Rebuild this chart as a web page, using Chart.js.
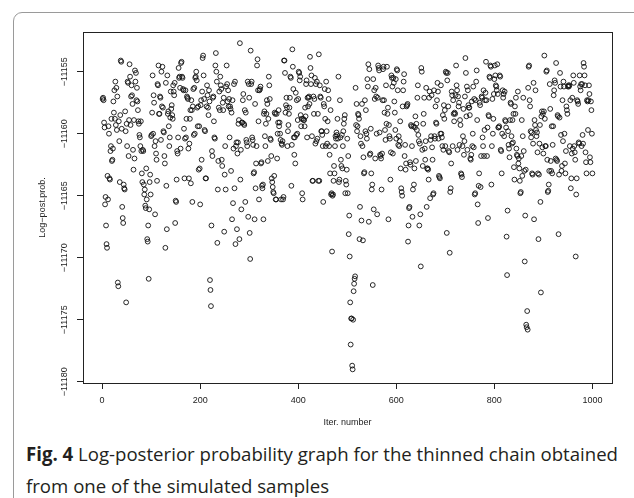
<!DOCTYPE html>
<html lang="en">
<head>
<meta charset="UTF-8">
<title>Fig. 4 Log-posterior probability</title>
<script src="https://cdn.jsdelivr.net/npm/chart.js"></script>
<style>
  html, body { margin: 0; padding: 0; background: #fff; }
  body { width: 634px; height: 498px; position: relative; overflow: hidden; }
  #card { position: absolute; left: 13px; top: 12px; width: 700px; height: 600px; border: 1px solid #9a9a9a; border-radius: 9px; }
  #plot { position: absolute; left: 0; top: 0; }
  .cap { position: absolute; left: 26px; font-family: "Open Sans", sans-serif; font-size: 19px; color: #231f20;
         white-space: nowrap; line-height: 1; transform-origin: 0 50%; }
</style>
</head>
<body>
<div id="card"></div>
<canvas id="plot" width="634" height="440"></canvas>
<div class="cap" id="cap1" style="top:445px"><b>Fig. 4</b> Log-posterior probability graph for the thinned chain obtained</div>
<div class="cap" id="cap2" style="top:477px">from one of the simulated samples</div>
<script>
// tick labels
const xTicks = [0, 200, 400, 600, 800, 1000];
const yTicks = [-11180, -11175, -11170, -11165, -11160, -11155];

// log-posterior value at each thinned iteration (1..1000)
const logPost = [
  -11157.2,-11157.1,-11157.3,-11159.1,-11159.5,-11165.7,-11165.1,-11167.4,-11168.9,-11169.2,-11163.4,-11165.3,-11159.4,-11160.0,-11163.6,-11163.7,-11161.4,-11161.0,-11158.8,-11162.2,
  -11162.1,-11161.2,-11157.4,-11158.3,-11156.5,-11158.8,-11155.8,-11159.3,-11156.3,-11159.7,-11157.0,-11172.0,-11172.3,-11159.0,-11160.6,-11163.9,-11158.5,-11154.1,-11154.2,-11159.6,
  -11165.9,-11166.8,-11167.2,-11164.1,-11164.4,-11164.5,-11158.2,-11159.8,-11173.6,-11159.2,-11161.0,-11155.8,-11155.9,-11161.8,-11158.9,-11154.4,-11155.4,-11159.3,-11157.0,-11156.1,
  -11156.9,-11157.6,-11161.3,-11162.9,-11158.9,-11162.0,-11154.9,-11155.8,-11155.1,-11157.3,-11156.3,-11157.4,-11158.1,-11159.0,-11159.2,-11160.1,-11160.3,-11161.0,-11159.0,-11161.4,
  -11163.2,-11163.9,-11161.3,-11161.4,-11164.1,-11164.9,-11164.5,-11165.8,-11166.0,-11162.8,-11165.3,-11168.5,-11168.7,-11167.4,-11171.7,-11166.1,-11163.9,-11163.3,-11164.9,-11160.2,
  -11160.1,-11158.3,-11155.3,-11160.0,-11156.9,-11157.5,-11161.0,-11166.5,-11160.6,-11161.6,-11162.1,-11163.8,-11156.0,-11156.1,-11154.5,-11158.4,-11158.4,-11157.0,-11157.1,-11160.5,
  -11155.0,-11157.8,-11154.6,-11157.9,-11159.8,-11159.9,-11161.8,-11162.4,-11169.2,-11155.9,-11164.2,-11167.7,-11155.3,-11158.4,-11158.2,-11159.4,-11161.0,-11160.3,-11158.7,-11156.6,
  -11158.0,-11157.7,-11158.5,-11158.8,-11156.1,-11156.6,-11156.9,-11155.9,-11167.2,-11165.4,-11165.5,-11163.7,-11161.4,-11161.6,-11160.3,-11154.7,-11155.5,-11155.4,-11156.3,-11161.2,
  -11154.3,-11154.2,-11155.4,-11155.5,-11156.4,-11156.5,-11159.6,-11163.6,-11160.4,-11156.5,-11160.3,-11158.8,-11157.0,-11157.1,-11157.2,-11161.2,-11163.6,-11160.8,-11158.8,-11158.1,
  -11164.0,-11157.3,-11158.1,-11165.5,-11157.8,-11156.4,-11160.1,-11156.3,-11160.0,-11155.5,-11155.4,-11155.0,-11155.7,-11157.9,-11159.4,-11157.8,-11162.9,-11159.4,-11162.8,-11165.7,
  -11157.7,-11157.3,-11162.1,-11156.6,-11153.9,-11153.7,-11155.3,-11157.2,-11159.7,-11159.8,-11163.6,-11163.6,-11157.8,-11156.1,-11156.9,-11157.9,-11158.5,-11156.5,-11157.4,-11171.8,
  -11172.6,-11173.9,-11167.4,-11161.4,-11161.8,-11157.1,-11157.0,-11159.0,-11160.3,-11160.4,-11154.5,-11153.5,-11155.0,-11155.8,-11168.8,-11164.5,-11162.2,-11157.9,-11156.6,-11158.1,
  -11155.4,-11156.1,-11156.4,-11162.1,-11162.6,-11157.5,-11158.1,-11157.1,-11167.9,-11163.3,-11161.0,-11164.5,-11156.2,-11154.5,-11156.0,-11157.4,-11156.5,-11157.8,-11157.2,-11160.3,
  -11157.8,-11158.0,-11163.0,-11158.3,-11166.9,-11157.3,-11165.6,-11161.2,-11156.0,-11164.4,-11155.8,-11168.9,-11161.0,-11160.7,-11167.7,-11161.6,-11160.7,-11159.2,-11158.9,-11168.5,
  -11152.7,-11163.7,-11161.3,-11166.1,-11159.1,-11159.1,-11157.3,-11156.8,-11159.2,-11159.3,-11158.1,-11165.5,-11158.3,-11160.5,-11160.7,-11161.0,-11155.8,-11166.7,-11156.0,-11157.1,
  -11168.0,-11170.1,-11153.3,-11156.0,-11155.8,-11160.3,-11160.5,-11160.9,-11163.2,-11163.1,-11166.9,-11157.6,-11164.4,-11162.4,-11161.0,-11154.5,-11154.0,-11156.5,-11159.0,-11165.3,
  -11156.5,-11156.4,-11156.2,-11162.4,-11162.3,-11164.2,-11164.4,-11164.1,-11166.9,-11158.4,-11158.2,-11160.2,-11161.0,-11159.2,-11158.4,-11157.3,-11157.6,-11162.2,-11158.8,-11155.4,
  -11156.1,-11157.2,-11160.4,-11160.5,-11161.8,-11163.6,-11163.9,-11164.3,-11164.7,-11164.8,-11163.4,-11158.3,-11158.4,-11165.3,-11165.3,-11158.4,-11162.0,-11160.0,-11159.1,-11158.1,
  -11159.4,-11159.1,-11160.0,-11160.5,-11165.3,-11160.8,-11160.9,-11160.6,-11165.3,-11165.1,-11154.1,-11154.1,-11155.1,-11158.3,-11157.7,-11157.1,-11157.9,-11161.0,-11159.8,-11159.3,
  -11158.4,-11157.9,-11157.1,-11155.4,-11155.5,-11164.2,-11160.9,-11153.2,-11154.6,-11156.4,-11160.3,-11161.7,-11160.3,-11162.4,-11156.7,-11160.1,-11157.3,-11160.0,-11158.9,-11157.2,
  -11155.0,-11155.1,-11155.7,-11155.4,-11158.5,-11159.4,-11158.8,-11164.8,-11165.3,-11158.8,-11158.9,-11158.9,-11159.4,-11157.9,-11158.6,-11156.0,-11155.7,-11160.3,-11157.1,-11157.8,
  -11157.1,-11157.0,-11157.6,-11153.8,-11154.7,-11156.0,-11155.3,-11160.2,-11163.8,-11163.8,-11157.0,-11158.4,-11157.2,-11155.5,-11160.8,-11156.0,-11160.6,-11155.8,-11160.4,-11158.4,
  -11163.8,-11153.6,-11163.8,-11156.1,-11157.0,-11157.1,-11159.8,-11159.8,-11160.1,-11161.0,-11165.5,-11157.6,-11157.8,-11156.4,-11158.8,-11161.0,-11155.8,-11159.8,-11160.8,-11159.0,
  -11156.5,-11157.2,-11161.0,-11161.7,-11163.2,-11158.1,-11164.9,-11164.8,-11169.5,-11165.0,-11164.9,-11163.8,-11162.6,-11163.2,-11161.0,-11160.2,-11160.4,-11159.9,-11160.1,-11158.8,
  -11160.4,-11155.4,-11163.9,-11163.7,-11157.3,-11160.3,-11162.1,-11162.6,-11160.1,-11162.8,-11161.0,-11159.8,-11159.2,-11158.8,-11158.5,-11164.8,-11163.8,-11164.1,-11162.9,-11160.4,
  -11164.8,-11161.8,-11168.1,-11166.6,-11169.9,-11173.6,-11177.0,-11174.9,-11174.9,-11178.7,-11179.0,-11175.0,-11172.7,-11172.1,-11171.7,-11171.5,-11156.3,-11159.3,-11157.6,-11159.8,
  -11159.4,-11158.4,-11158.5,-11158.8,-11168.5,-11165.9,-11160.2,-11160.8,-11167.0,-11157.6,-11161.0,-11168.6,-11161.9,-11163.2,-11163.1,-11157.3,-11159.8,-11158.1,-11160.0,-11160.4,
  -11155.6,-11156.2,-11154.4,-11167.1,-11154.8,-11161.7,-11161.6,-11159.6,-11163.2,-11164.5,-11164.1,-11172.2,-11155.6,-11166.1,-11156.5,-11157.2,-11162.0,-11156.3,-11157.0,-11160.0,
  -11166.5,-11157.1,-11154.5,-11154.7,-11154.9,-11159.9,-11161.7,-11161.8,-11162.0,-11164.5,-11161.6,-11157.3,-11154.8,-11154.6,-11157.3,-11158.3,-11159.7,-11160.5,-11156.1,-11159.2,
  -11154.6,-11158.4,-11157.9,-11166.9,-11159.3,-11160.2,-11160.4,-11163.7,-11161.5,-11155.3,-11155.5,-11156.2,-11161.6,-11155.5,-11155.9,-11157.4,-11158.3,-11159.7,-11155.6,-11160.4,
  -11154.8,-11154.9,-11156.5,-11160.9,-11160.2,-11161.0,-11160.6,-11159.0,-11162.8,-11164.4,-11164.7,-11165.0,-11157.8,-11156.5,-11155.8,-11155.2,-11161.8,-11160.9,-11162.9,-11162.4,
  -11157.8,-11157.7,-11157.6,-11168.7,-11167.4,-11166.0,-11165.9,-11162.3,-11162.5,-11159.3,-11159.4,-11161.0,-11166.7,-11164.5,-11159.4,-11164.1,-11162.8,-11159.5,-11158.6,-11162.2,
  -11159.2,-11159.7,-11157.1,-11156.1,-11160.1,-11160.6,-11167.4,-11160.8,-11166.5,-11170.7,-11154.7,-11155.0,-11161.3,-11162.6,-11159.2,-11158.4,-11157.1,-11161.2,-11162.1,-11160.6,
  -11156.3,-11165.9,-11162.8,-11162.8,-11162.9,-11163.7,-11157.1,-11156.6,-11165.2,-11160.5,-11160.2,-11156.9,-11161.1,-11162.1,-11164.9,-11164.8,-11156.5,-11160.2,-11160.4,-11157.8,
  -11159.1,-11159.2,-11157.3,-11155.9,-11156.6,-11160.4,-11163.4,-11163.5,-11163.6,-11160.0,-11156.1,-11160.0,-11160.3,-11161.0,-11158.5,-11161.3,-11157.7,-11158.8,-11158.1,-11161.0,
  -11155.0,-11155.1,-11168.0,-11155.7,-11155.1,-11157.8,-11161.4,-11161.5,-11169.6,-11164.7,-11164.4,-11162.4,-11156.6,-11156.9,-11161.0,-11157.3,-11158.4,-11159.0,-11158.3,-11158.4,
  -11156.9,-11154.5,-11156.1,-11156.5,-11161.3,-11157.0,-11157.8,-11157.5,-11160.9,-11158.9,-11159.3,-11163.2,-11163.3,-11163.5,-11161.0,-11160.2,-11158.0,-11161.7,-11160.6,-11157.0,
  -11153.9,-11155.1,-11158.6,-11156.2,-11161.3,-11156.5,-11157.7,-11157.9,-11157.9,-11158.5,-11162.0,-11162.1,-11161.7,-11157.4,-11161.0,-11160.0,-11156.2,-11161.1,-11157.2,-11164.9,
  -11164.8,-11157.3,-11155.8,-11154.9,-11158.9,-11165.7,-11167.2,-11164.2,-11163.2,-11157.5,-11157.7,-11164.3,-11161.8,-11157.0,-11157.1,-11160.3,-11161.0,-11156.5,-11161.8,-11159.7,
  -11157.3,-11156.7,-11154.2,-11157.3,-11161.8,-11159.5,-11166.8,-11158.5,-11158.6,-11155.4,-11155.5,-11154.5,-11154.6,-11164.1,-11161.0,-11157.2,-11160.0,-11158.8,-11156.8,-11155.6,
  -11154.5,-11155.3,-11156.1,-11156.2,-11156.5,-11154.4,-11156.8,-11159.5,-11159.5,-11159.4,-11155.3,-11155.4,-11161.3,-11161.4,-11163.2,-11160.0,-11156.5,-11157.1,-11156.8,-11160.2,
  -11156.6,-11158.9,-11159.0,-11159.5,-11168.3,-11171.4,-11166.2,-11159.8,-11160.9,-11161.2,-11161.9,-11158.9,-11157.5,-11157.6,-11160.2,-11160.8,-11158.9,-11160.7,-11158.4,-11162.7,
  -11163.7,-11157.8,-11158.4,-11157.1,-11161.2,-11161.7,-11161.8,-11156.6,-11162.4,-11162.0,-11162.8,-11163.8,-11164.8,-11164.7,-11161.8,-11158.9,-11163.4,-11160.2,-11157.1,-11161.4,
  -11163.0,-11170.3,-11166.6,-11162.9,-11175.4,-11175.6,-11174.3,-11175.8,-11156.3,-11154.6,-11154.5,-11157.3,-11157.8,-11159.8,-11160.3,-11159.9,-11163.2,-11163.3,-11160.8,-11155.9,
  -11166.9,-11158.9,-11159.3,-11156.5,-11159.7,-11160.2,-11159.9,-11161.5,-11163.2,-11168.5,-11163.3,-11160.8,-11159.3,-11165.5,-11172.8,-11158.6,-11158.2,-11161.1,-11158.4,-11161.6,
  -11158.2,-11153.7,-11158.8,-11161.0,-11161.0,-11155.0,-11154.9,-11162.1,-11164.7,-11164.6,-11164.1,-11163.0,-11156.0,-11158.0,-11162.2,-11163.0,-11159.4,-11163.2,-11160.9,-11159.4,
  -11156.9,-11156.5,-11155.7,-11155.9,-11162.0,-11154.3,-11162.1,-11162.2,-11158.5,-11158.6,-11168.1,-11163.3,-11158.7,-11155.1,-11156.2,-11160.1,-11163.0,-11162.6,-11157.3,-11160.6,
  -11155.8,-11156.2,-11160.0,-11162.4,-11163.2,-11161.4,-11157.8,-11158.1,-11158.4,-11156.2,-11156.1,-11156.2,-11156.1,-11161.0,-11157.3,-11164.4,-11163.6,-11161.6,-11157.1,-11161.2,
  -11155.3,-11155.9,-11161.0,-11161.5,-11162.1,-11169.9,-11164.9,-11163.6,-11157.3,-11157.4,-11157.6,-11160.7,-11160.8,-11155.3,-11156.2,-11156.5,-11156.0,-11161.0,-11156.0,-11160.1,
  -11160.8,-11154.3,-11154.6,-11155.3,-11156.1,-11161.5,-11162.3,-11163.2,-11157.3,-11157.4,-11159.7,-11157.3,-11156.1,-11156.8,-11161.9,-11162.3,-11157.4,-11158.1,-11160.0,-11163.2
];

const points = logPost.map((v, i) => ({ x: i + 1, y: v }));
const axisFont = '9px "Liberation Sans", Arial, sans-serif';
const ink = '#222';

function minusLabel(v) {
  return (v < 0 ? '\u2212' : '') + Math.abs(v);
}

// box around the plot, rotated y labels and axis titles (R style)
const rDecor = {
  id: 'rDecor',
  afterDraw(chart) {
    const { ctx, chartArea: a, scales } = chart;
    ctx.save();
    ctx.strokeStyle = ink;
    ctx.lineWidth = 1;
    ctx.strokeRect(Math.round(a.left) + 0.5, Math.round(a.top) + 0.5,
      Math.round(a.right - a.left), Math.round(a.bottom - a.top));

    ctx.fillStyle = ink;
    ctx.font = axisFont;
    ctx.textAlign = 'center';
    ctx.textBaseline = 'middle';
    yTicks.forEach(v => {
      const py = scales.y.getPixelForValue(v);
      ctx.save();
      ctx.translate(65, py);
      ctx.rotate(-Math.PI / 2);
      ctx.fillText(minusLabel(v), 0, 0);
      ctx.restore();
    });

    ctx.fillText('Iter. number', (a.left + a.right) / 2, 423);
    ctx.save();
    ctx.translate(43, (a.top + a.bottom) / 2);
    ctx.rotate(-Math.PI / 2);
    ctx.fillText('Log\u2212post.prob.', 0, 0);
    ctx.restore();
    ctx.restore();
  }
};

new Chart(document.getElementById('plot'), {
  type: 'scatter',
  data: {
    datasets: [{
      data: points,
      pointRadius: 2.4,
      pointBorderWidth: 0.9,
      borderColor: '#111',
      backgroundColor: 'rgba(0,0,0,0)',
      pointHoverRadius: 2.4
    }]
  },
  options: {
    responsive: false,
    animation: false,
    layout: { padding: { left: 0, top: 32, right: 22, bottom: 0 } },
    plugins: { legend: { display: false }, tooltip: { enabled: false } },
    scales: {
      x: {
        type: 'linear',
        min: -39,
        max: 1040,
        afterBuildTicks: s => { s.ticks = xTicks.map(v => ({ value: v })); },
        afterFit: s => { s.height = 57; },
        border: { display: false },
        grid: { drawOnChartArea: false, drawTicks: true, tickLength: 6, color: ink, lineWidth: 1 },
        ticks: { font: { family: '"Liberation Sans", Arial, sans-serif', size: 9 }, color: ink,
                 padding: 6, maxRotation: 0, autoSkip: false, callback: v => String(v) }
      },
      y: {
        type: 'linear',
        min: -11180.1,
        max: -11151.8,
        afterBuildTicks: s => { s.ticks = yTicks.map(v => ({ value: v })); },
        afterFit: s => { s.width = 83; },
        border: { display: false },
        grid: { drawOnChartArea: false, drawTicks: true, tickLength: 6, color: ink, lineWidth: 1 },
        ticks: { display: false }
      }
    }
  },
  plugins: [rDecor]
});

// squeeze the caption to the width it has in the figure
const cap1 = document.getElementById('cap1');
const cap2 = document.getElementById('cap2');
const k = 592 / cap1.getBoundingClientRect().width;
cap1.style.transform = 'scaleX(' + k + ')';
cap2.style.transform = 'scaleX(' + k + ')';
</script>
</body>
</html>
